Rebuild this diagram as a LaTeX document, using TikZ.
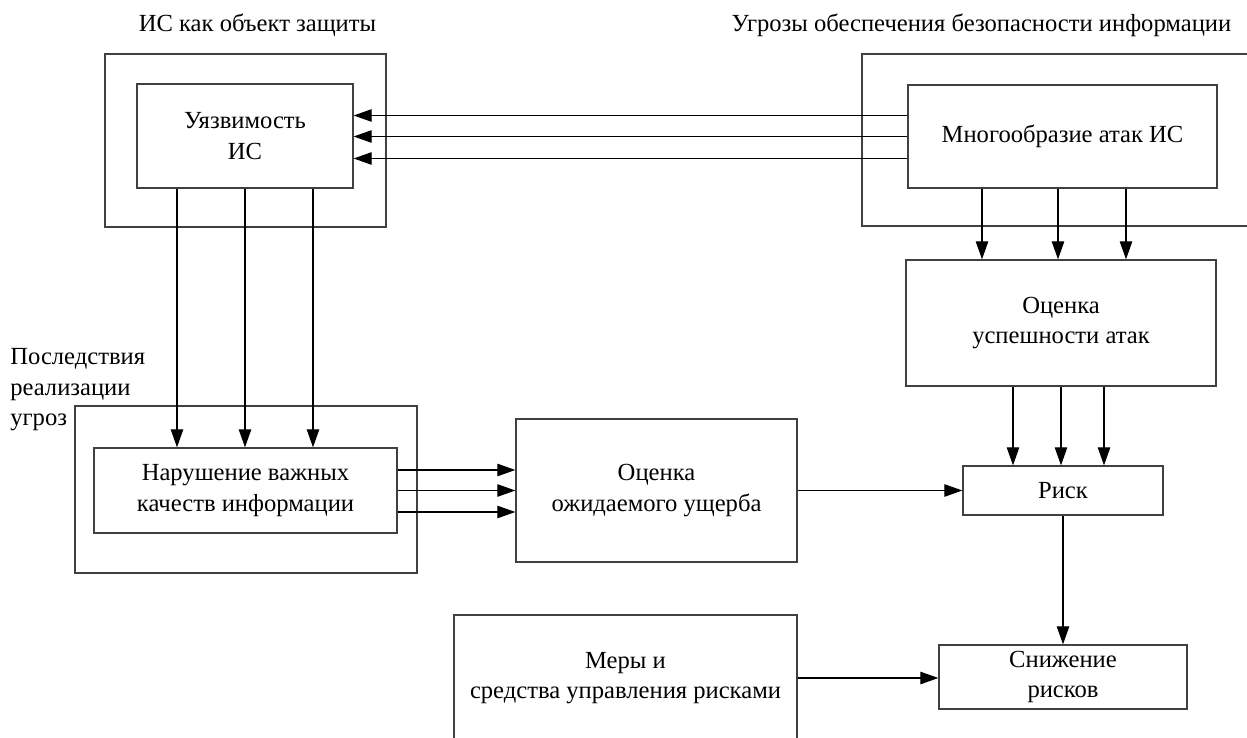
\documentclass[tikz,border=0pt]{standalone}
\usepackage{fontspec}
\setmainfont{Liberation Serif}
\usetikzlibrary{arrows.meta}

\begin{document}
\begin{tikzpicture}[
    block/.style = {
        rectangle,
        draw = black!75,
        line width = 0.8pt,
        align = center,
        inner sep = 0pt,
        font = \fontsize{14}{17.5}\selectfont
    },
    frame/.style = {
        rectangle,
        draw = black!75,
        line width = 0.8pt,
        inner sep = 0pt
    },
    heading/.style = {
        inner sep = 0pt,
        font = \fontsize{14}{17.5}\selectfont
    },
    arrow/.style = {
        -{Triangle[length = 3.6mm, width = 2.5mm]},
        line width = 0.6pt,
        black
    }
]
    \useasboundingbox (0,0) rectangle (24.94,-14.76);
    \clip (0,0) rectangle (24.94,-14.76);

    % Outer frames
    \node [frame, minimum width = 5.62cm, minimum height = 3.46cm] (isframe) at (4.91,-2.81) {};
    \node [frame, minimum width = 8.40cm, minimum height = 3.44cm] (threatframe) at (21.44,-2.80) {};
    \node [frame, minimum width = 6.84cm, minimum height = 3.34cm] (consframe) at (4.92,-9.79) {};

    % Frame headings
    \node [heading] (isfhead) at (5.15,-0.50) {ИС как объект защиты};
    \node [heading] (threathead) at (19.63,-0.50) {Угрозы обеспечения безопасности информации};
    \node [heading, align = left, anchor = north west] (conshead) at (0.20,-6.96) {Последствия\\реализации\\угроз};

    % Blocks
    \node [block, minimum width = 4.32cm, minimum height = 2.08cm] (vuln) at (4.90,-2.72) {Уязвимость\\ИС};
    \node [block, minimum width = 6.18cm, minimum height = 2.06cm] (attacks) at (21.25,-2.73) {Многообразие атак ИС};
    \node [block, minimum width = 6.20cm, minimum height = 2.52cm] (success) at (21.22,-6.46) {Оценка\\успешности атак};
    \node [block, minimum width = 4.00cm, minimum height = 0.98cm] (risk) at (21.26,-9.81) {Риск};
    \node [block, minimum width = 4.96cm, minimum height = 1.28cm] (reduce) at (21.26,-13.54) {Снижение\\рисков};
    \node [block, minimum width = 6.86cm, minimum height = 2.52cm] (measures) at (12.51,-13.56) {Меры и\\средства управления рисками};
    \node [block, minimum width = 6.06cm, minimum height = 1.70cm] (breach) at (4.91,-9.81) {Нарушение важных\\качеств информации};
    \node [block, minimum width = 5.62cm, minimum height = 2.86cm] (damage) at (13.13,-9.81) {Оценка\\ожидаемого ущерба};

    % Attacks to vulnerability
    \draw [arrow] ([yshift = 0.42cm]attacks.west) -- ([yshift = 0.42cm]attacks.west -| vuln.east);
    \draw [arrow] (attacks.west) -- (attacks.west -| vuln.east);
    \draw [arrow] ([yshift = -0.44cm]attacks.west) -- ([yshift = -0.44cm]attacks.west -| vuln.east);

    % Vulnerability to consequences
    \draw [arrow] ([xshift = -1.36cm]vuln.south) -- ([xshift = -1.36cm]vuln.south |- breach.north);
    \draw [arrow] (vuln.south) -- (vuln.south |- breach.north);
    \draw [arrow] ([xshift = 1.36cm]vuln.south) -- ([xshift = 1.36cm]vuln.south |- breach.north);

    % Attacks to success estimate
    \draw [arrow] ([xshift = -1.61cm]attacks.south) -- ([xshift = -1.61cm]attacks.south |- success.north);
    \draw [arrow] ([xshift = -0.09cm]attacks.south) -- ([xshift = -0.09cm]attacks.south |- success.north);
    \draw [arrow] ([xshift = 1.27cm]attacks.south) -- ([xshift = 1.27cm]attacks.south |- success.north);

    % Success estimate to risk
    \draw [arrow] ([xshift = -0.96cm]success.south) -- ([xshift = -0.96cm]success.south |- risk.north);
    \draw [arrow] (success.south) -- (success.south |- risk.north);
    \draw [arrow] ([xshift = 0.86cm]success.south) -- ([xshift = 0.86cm]success.south |- risk.north);

    % Breach to damage estimate
    \draw [arrow] ([yshift = 0.41cm]breach.east) -- ([yshift = 0.41cm]breach.east -| damage.west);
    \draw [arrow] (breach.east) -- (breach.east -| damage.west);
    \draw [arrow] ([yshift = -0.43cm]breach.east) -- ([yshift = -0.43cm]breach.east -| damage.west);

    % Risk chain
    \draw [arrow] (damage.east) -- (damage.east -| risk.west);
    \draw [arrow] (risk.south) -- (risk.south |- reduce.north);
    \draw [arrow] (measures.east) -- (measures.east -| reduce.west);

\end{tikzpicture}
\end{document}
